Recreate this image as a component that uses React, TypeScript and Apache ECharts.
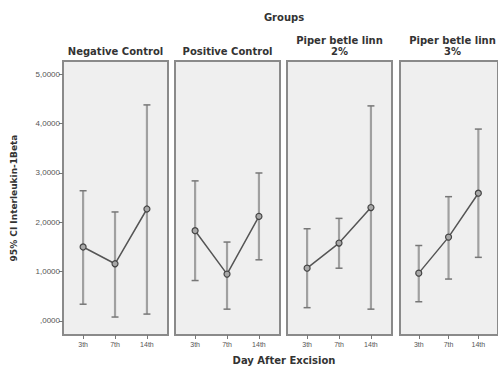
import React, { useEffect, useRef } from "react";
import * as echarts from "echarts";

const groups = ["Negative Control", "Positive Control", "Piper betle linn\n2%", "Piper betle linn\n3%"];
const days = ["3th", "7th", "14th"];
const yTicks = [0, 1, 2, 3, 4, 5];
const yTickLabels = [",0000", "1,0000", "2,0000", "3,0000", "4,0000", "5,0000"];

const meanNeg = [1.50, 1.16, 2.27];
const lowNeg = [0.34, 0.08, 0.14];
const highNeg = [2.64, 2.21, 4.38];

const meanPos = [1.83, 0.95, 2.12];
const lowPos = [0.82, 0.24, 1.24];
const highPos = [2.84, 1.60, 3.00];

const meanP2 = [1.07, 1.58, 2.30];
const lowP2 = [0.27, 1.07, 0.24];
const highP2 = [1.87, 2.08, 4.36];

const meanP3 = [0.97, 1.70, 2.59];
const lowP3 = [0.39, 0.85, 1.29];
const highP3 = [1.53, 2.52, 3.89];

const means = [meanNeg, meanPos, meanP2, meanP3];
const lows = [lowNeg, lowPos, lowP2, lowP3];
const highs = [highNeg, highPos, highP2, highP3];

const gridLefts = [63, 175, 287, 400];
const gridWidth = 105;
const gridTop = 61;
const gridHeight = 274;
const FONT = "Liberation Sans, Arial, sans-serif";
const BOLD = "DejaVu Sans, Liberation Sans, sans-serif";

export default function App() {
  const ref = useRef<HTMLDivElement>(null);
  useEffect(() => {
    document.body.style.margin = "0";
    const chart = echarts.init(ref.current!, null, { renderer: "svg" });
    const grids: any[] = [];
    const xAxes: any[] = [];
    const yAxes: any[] = [];
    const series: any[] = [];
    const graphics: any[] = [];
    groups.forEach((g, i) => {
      grids.push({
        left: gridLefts[i],
        top: gridTop,
        width: gridWidth,
        height: gridHeight,
        show: true,
        backgroundColor: "#efefef",
        borderColor: "#8a8a8a",
        borderWidth: 2,
      });
      xAxes.push({
        type: "value",
        gridIndex: i,
        min: -0.63,
        max: 2.66,
        axisLine: { show: false, onZero: false },
        splitLine: { show: false },
        axisTick: { show: true, customValues: [0, 1, 2], length: 4, lineStyle: { color: "#777" } },
        axisLabel: {
          customValues: [0, 1, 2],
          formatter: (v: number) => days[Math.round(v)] ?? "",
          fontSize: 7,
          color: "#555555",
          fontFamily: FONT,
          margin: 6,
        },
      });
      yAxes.push({
        type: "value",
        gridIndex: i,
        min: -0.284,
        max: 5.27,
        axisLine: { show: false, onZero: false },
        splitLine: { show: false },
        axisTick: { show: i === 0, customValues: yTicks, length: 4, lineStyle: { color: "#777" } },
        axisLabel: {
          show: i === 0,
          customValues: yTicks,
          formatter: (v: number) => yTickLabels[yTicks.indexOf(Math.round(v))] ?? "",
          fontSize: 8,
          color: "#555555",
          fontFamily: FONT,
          margin: 3,
        },
        name: i === 0 ? "95% CI Interleukin-1Beta" : "",
        nameLocation: "middle",
        nameGap: 45,
        nameTextStyle: { fontSize: 9, fontWeight: "bold", color: "#333", fontFamily: BOLD },
      });
      const ebData = days.map((_, k) => [k, lows[i][k], highs[i][k]]);
      series.push({
        type: "custom",
        xAxisIndex: i,
        yAxisIndex: i,
        data: ebData,
        renderItem: (params: any, api: any) => {
          const x = api.value(0);
          const lo = api.coord([x, api.value(1)]);
          const hi = api.coord([x, api.value(2)]);
          const cw = 3.5;
          return {
            type: "group",
            children: [
              { type: "line", shape: { x1: lo[0], y1: lo[1], x2: hi[0], y2: hi[1] }, style: { stroke: "#a0a0a0", lineWidth: 2.2 } },
              { type: "line", shape: { x1: lo[0] - cw, y1: lo[1], x2: lo[0] + cw, y2: lo[1] }, style: { stroke: "#777", lineWidth: 1.5 } },
              { type: "line", shape: { x1: hi[0] - cw, y1: hi[1], x2: hi[0] + cw, y2: hi[1] }, style: { stroke: "#777", lineWidth: 1.5 } },
            ],
          };
        },
        z: 2,
      });
      series.push({
        type: "line",
        xAxisIndex: i,
        yAxisIndex: i,
        data: days.map((_, k) => [k, means[i][k]]),
        symbol: "circle",
        symbolSize: 6,
        lineStyle: { color: "#555", width: 1.5 },
        itemStyle: { color: "#a8a8a8", borderColor: "#444", borderWidth: 1.2 },
        z: 3,
      });
      const lines = g.split("\n");
      graphics.push({
        type: "text",
        x: gridLefts[i] + gridWidth / 2,
        y: lines.length > 1 ? 35 : 46,
        style: {
          text: g,
          align: "center",
          verticalAlign: "top",
          font: `bold 10px ${BOLD}`,
          fill: "#333",
          lineHeight: 11,
        },
      });
    });
    graphics.push({
      type: "text",
      x: 284,
      y: 12,
      style: { text: "Groups", align: "center", verticalAlign: "top", font: `bold 10px ${BOLD}`, fill: "#333" },
    });
    graphics.push({
      type: "text",
      x: 284,
      y: 355,
      style: { text: "Day After Excision", align: "center", verticalAlign: "top", font: `bold 10px ${BOLD}`, fill: "#333" },
    });
    chart.setOption({
      animation: false,
      backgroundColor: "#fff",
      grid: grids,
      xAxis: xAxes,
      yAxis: yAxes,
      series,
      graphic: graphics,
    });
    return () => chart.dispose();
  }, []);
  return <div ref={ref} style={{ width: 498, height: 366 }} />;
}
